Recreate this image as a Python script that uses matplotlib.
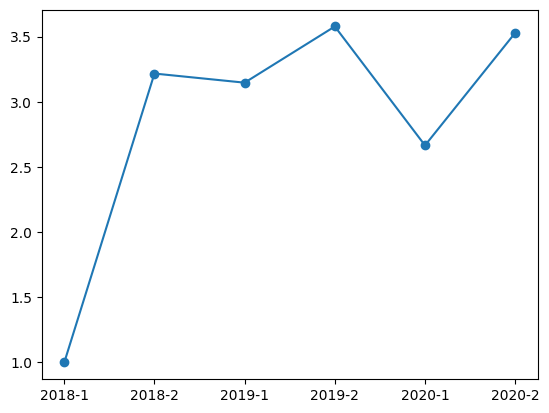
import matplotlib
matplotlib.use("Agg")
import matplotlib.pyplot as plt

periods = ["2018-1", "2018-2", "2019-1", "2019-2", "2020-1", "2020-2"]
values = [1.0, 3.216, 3.146, 3.577, 2.665, 3.528]

fig, ax = plt.subplots()
ax.plot(periods, values, marker="o")

fig.savefig("out.png", bbox_inches="tight")
